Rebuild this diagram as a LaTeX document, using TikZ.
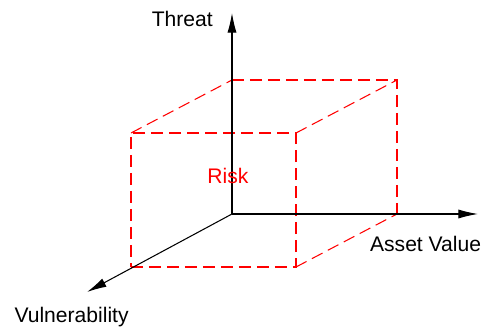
\documentclass[tikz,border=0pt]{standalone}
\usepackage{fontspec}
\setmainfont{Liberation Sans}
\usetikzlibrary{arrows.meta,positioning}

\begin{document}
\begin{tikzpicture}[
  axis/.style={-{Latex[length=14pt,width=6.5pt]},line width=0.75pt},
  edge/.style={red,dash pattern=on 8.5pt off 4.3pt,line width=0.75pt},
  lbl/.style={font=\fontsize{15}{18}\selectfont,inner sep=0pt}
]
\useasboundingbox (-5.8,-2.875) rectangle (6.375,5.35);

% axes end points
\coordinate (o) at (0,0);
\coordinate (threat) at (0,5.025);
\coordinate (asset) at (6.15,0);
\coordinate (vuln) at (-3.625,-1.95);

% cube corners (back face on the axes, front face towards the viewer)
\coordinate (b2) at (4.125,0);
\coordinate (b3) at (4.125,3.35);
\coordinate (b4) at (0,3.35);
\coordinate (f1) at (-2.525,-1.325);
\coordinate (f2) at (1.6,-1.325);
\coordinate (f3) at (1.6,2.025);
\coordinate (f4) at (-2.525,2.025);

\draw[edge] (b4) -- (b3) -- (b2);
\draw[edge] (f1) -- (f2) -- (f3) -- (f4) -- cycle;
\draw[edge] (f4) -- (b4);
\draw[edge] (f3) -- (b3);
\draw[edge] (f2) -- (b2);

\draw[axis] (o) -- (threat);
\draw[axis] (o) -- (asset);
\draw[axis] (o) -- (vuln);

\node[lbl,anchor=east] (tlbl) at (-0.475,4.875) {Threat};
\node[lbl] (albl) at (4.84,-0.75) {Asset Value};
\node[lbl] (vlbl) at (-4.01,-2.575) {Vulnerability};
\node[lbl,text=red] (risk) at (-0.1,0.95) {Risk};
\end{tikzpicture}
\end{document}
